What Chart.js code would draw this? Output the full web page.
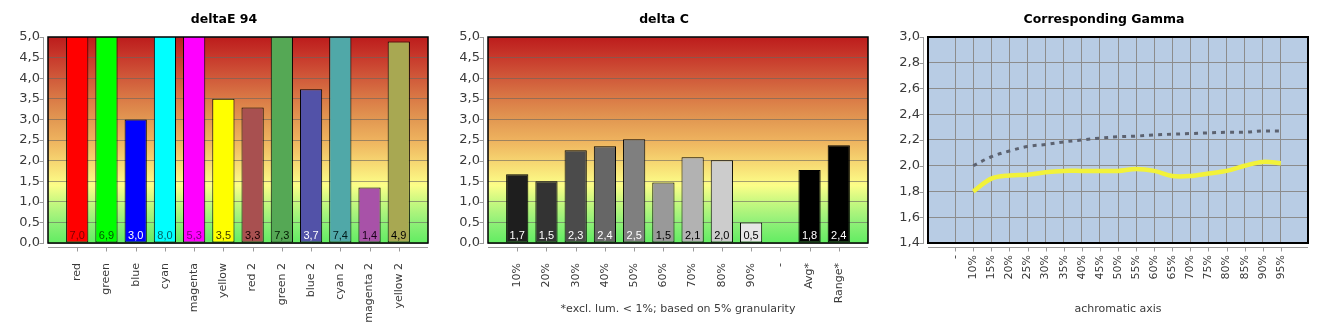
<!DOCTYPE html>
<html>
<head>
<meta charset="utf-8">
<script src="https://cdn.jsdelivr.net/npm/chart.js@4.4.1/dist/chart.umd.min.js"></script>
<style>
  body { margin: 0; background: #fff; width: 1330px; height: 330px; position: relative; overflow: hidden; }
  .box { position: absolute; top: 0; width: 440px; height: 330px; }
</style>
</head>
<body>
<div class="box" style="left:0px"><canvas id="deltaEChart" width="440" height="330"></canvas></div>
<div class="box" style="left:440px"><canvas id="deltaCChart" width="440" height="330"></canvas></div>
<div class="box" style="left:880px"><canvas id="gammaChart" width="440" height="330"></canvas></div>
<script>
const deltaECategories = ["red", "green", "blue", "cyan", "magenta", "yellow", "red 2", "green 2", "blue 2", "cyan 2", "magenta 2", "yellow 2"];
const deltaEValues = [7.0, 6.9, 3.0, 8.0, 5.3, 3.5, 3.29, 7.3, 3.73, 7.4, 1.35, 4.89];
const deltaEColors = ["#ff0000", "#00ff00", "#0000ff", "#00ffff", "#ff00ff", "#ffff00", "#a85050", "#55a855", "#5252a8", "#50a8a8", "#a852a8", "#a8a852"];
const deltaETextColors = ["#7a0000", "#005a00", "#ffffff", "#006464", "#7a007a", "#3c3c00", "#1a0000", "#001a00", "#ffffff", "#001a1a", "#1a001a", "#000000"];

const deltaCCategories = ["10%", "20%", "30%", "40%", "50%", "60%", "70%", "80%", "90%", "-", "Avg*", "Range*"];
const deltaCValues = [1.67, 1.50, 2.25, 2.35, 2.52, 1.47, 2.08, 2.01, 0.50, null, 1.77, 2.37];
const deltaCColors = ["#1e1e1e", "#333333", "#4b4b4b", "#666666", "#7f7f7f", "#999999", "#b2b2b2", "#cccccc", "#e6e6e6", "#000000", "#000000", "#000000"];
const deltaCTextColors = ["#fff", "#fff", "#fff", "#fff", "#fff", "#000", "#000", "#000", "#000", "#000", "#fff", "#fff"];

const gammaLabels = ["-", "10%", "15%", "20%", "25%", "30%", "35%", "40%", "45%", "50%", "55%", "60%", "65%", "70%", "75%", "80%", "85%", "90%", "95%"];
const gammaTarget = [null, 2.00, 2.07, 2.115, 2.15, 2.165, 2.185, 2.20, 2.215, 2.225, 2.23, 2.24, 2.245, 2.25, 2.255, 2.26, 2.26, 2.27, 2.27];
const gammaMeasured = [null, 1.80, 1.90, 1.925, 1.93, 1.95, 1.96, 1.96, 1.96, 1.96, 1.975, 1.96, 1.92, 1.92, 1.94, 1.96, 2.00, 2.03, 2.02];

const deltaTicks = { min: 0, max: 5, step: 0.5 };
const gammaTicks = { min: 1.4, max: 3.0, step: 0.2 };

const gradientStops = [
  [0, "#62ec62"],
  [0.1, "#90f078"],
  [0.2, "#c8f880"],
  [0.28, "#fcfe88"],
  [0.4, "#f6d470"],
  [0.5, "#eeb25e"],
  [0.6, "#e29852"],
  [0.7, "#da7a46"],
  [0.8, "#d05a3a"],
  [0.9, "#c83a2c"],
  [1, "#bc1c1c"]
];

Chart.defaults.font.family = "'DejaVu Sans', sans-serif";
Chart.defaults.color = "#3a3a3a";

const pad = arr => [null, ...arr, null];
const padLabels = arr => ["", ...arr, ""];
const comma = v => Number(v).toFixed(1).replace(".", ",");

const plotFrame = {
  id: "plotFrame",
  beforeDraw(chart, args, opts) {
    const { ctx, chartArea: a } = chart;
    ctx.save();
    if (opts.gradient) {
      const g = ctx.createLinearGradient(0, a.bottom, 0, a.top);
      gradientStops.forEach(([p, c]) => g.addColorStop(p, c));
      ctx.fillStyle = g;
    } else {
      ctx.fillStyle = opts.fill;
    }
    ctx.fillRect(a.left, a.top, a.width, a.height);
    ctx.restore();
  },
  afterDatasetsDraw(chart, args, opts) {
    if (!opts.valueLabels) return;
    const { ctx, chartArea: a } = chart;
    const meta = chart.getDatasetMeta(0);
    const values = chart.data.datasets[0].data;
    ctx.save();
    ctx.font = "11px 'Liberation Sans Narrow', 'Liberation Sans', sans-serif";
    ctx.textAlign = "center";
    ctx.textBaseline = "middle";
    meta.data.forEach((bar, i) => {
      if (values[i] === null || values[i] === undefined) return;
      ctx.fillStyle = opts.textColors[i - 1];
      ctx.fillText(comma(values[i]), bar.x, a.bottom - 7);
    });
    ctx.restore();
  },
  afterDraw(chart, args, opts) {
    const { ctx, chartArea: a } = chart;
    const xs = chart.scales.x;
    const ys = chart.scales.y;
    ctx.save();
    ctx.strokeStyle = "#000";
    ctx.lineWidth = opts.borderWidth;
    ctx.strokeRect(a.left, a.top, a.width, a.height);

    ctx.strokeStyle = "#9a9a9a";
    ctx.lineWidth = 1;
    ctx.beginPath();
    const ax = Math.round(a.left - 5) + 0.5;
    ctx.moveTo(ax, a.top);
    ctx.lineTo(ax, a.bottom + 1);
    ys.ticks.forEach((t, i) => {
      const y = Math.round(ys.getPixelForTick(i)) + 0.5;
      ctx.moveTo(ax - 4, y);
      ctx.lineTo(ax, y);
    });
    const ay = Math.round(a.bottom + 4) + 0.5;
    ctx.moveTo(a.left, ay);
    ctx.lineTo(a.right, ay);
    xs.ticks.forEach((t, i) => {
      if (!xs.getLabelForValue(t.value)) return;
      const x = Math.round(xs.getPixelForTick(i)) + 0.5;
      ctx.moveTo(x, ay);
      ctx.lineTo(x, ay + 4);
    });
    ctx.stroke();
    ctx.restore();
  }
};

function yScale(range, gridColor) {
  return {
    min: range.min,
    max: range.max,
    border: { display: false },
    grid: { drawTicks: false, color: gridColor, lineWidth: 1 },
    ticks: {
      stepSize: range.step,
      padding: 8,
      font: { size: 13 },
      color: "#3a3a3a",
      callback: v => comma(v)
    },
    afterFit: scale => {
      scale.width = 28;
      scale.paddingTop = 0;
      scale.paddingBottom = 0;
    }
  };
}

function xScale(titleText, extra) {
  return Object.assign({
    border: { display: false },
    ticks: {
      autoSkip: false,
      minRotation: 90,
      maxRotation: 90,
      padding: 12,
      font: { size: 11 },
      color: "#3a3a3a"
    },
    title: {
      display: !!titleText,
      text: titleText,
      font: { size: 11 },
      color: "#3a3a3a",
      padding: { top: 0, bottom: 14 }
    },
    afterFit: scale => {
      scale.height = 87;
      scale.paddingLeft = 0;
      scale.paddingRight = 0;
    }
  }, extra);
}

function titleOptions(text) {
  return {
    display: true,
    text: text,
    color: "#000",
    font: { size: 12.5, weight: "bold" },
    padding: { top: 12, bottom: 10 }
  };
}

function barChart(id, title, categories, values, colors, textColors, xTitle) {
  return new Chart(document.getElementById(id), {
    type: "bar",
    data: {
      labels: padLabels(categories),
      datasets: [{
        data: pad(values),
        backgroundColor: pad(colors),
        borderColor: "#000",
        borderWidth: 1,
        borderSkipped: false,
        barPercentage: 0.76,
        categoryPercentage: 1
      }]
    },
    options: {
      responsive: false,
      animation: false,
      layout: { padding: { left: 20, right: 12, top: 0, bottom: 0 } },
      plugins: {
        legend: { display: false },
        tooltip: { enabled: false },
        title: titleOptions(title),
        plotFrame: { gradient: true, valueLabels: true, textColors: textColors, borderWidth: 1.5 }
      },
      scales: {
        x: xScale(xTitle, { offset: false, grid: { display: false } }),
        y: yScale(deltaTicks, "rgba(105,100,95,0.6)")
      }
    },
    plugins: [plotFrame]
  });
}

barChart("deltaEChart", "deltaE 94", deltaECategories, deltaEValues, deltaEColors, deltaETextColors, "");
barChart("deltaCChart", "delta C", deltaCCategories, deltaCValues, deltaCColors, deltaCTextColors, "*excl. lum. < 1%; based on 5% granularity");

const gammaAllLabels = padLabels(gammaLabels);

new Chart(document.getElementById("gammaChart"), {
  type: "line",
  data: {
    labels: gammaAllLabels,
    datasets: [
      {
        data: pad(gammaMeasured),
        borderColor: "#f2f23a",
        borderWidth: 4.5,
        pointRadius: 0,
        tension: 0.35,
        fill: false
      },
      {
        data: pad(gammaTarget),
        borderColor: "#5c6270",
        borderWidth: 3,
        borderDash: [4, 5],
        pointRadius: 0,
        tension: 0.35,
        fill: false
      }
    ]
  },
  options: {
    responsive: false,
    animation: false,
    layout: { padding: { left: 20, right: 12, top: 0, bottom: 0 } },
    plugins: {
      legend: { display: false },
      tooltip: { enabled: false },
      title: titleOptions("Corresponding Gamma"),
      plotFrame: { gradient: false, fill: "#b8cce4", valueLabels: false, borderWidth: 2 }
    },
    scales: {
      x: xScale("achromatic axis", {
        offset: true,
        grid: {
          drawTicks: false,
          color: c => (gammaAllLabels[c.index] ? "#8c8c8c" : "rgba(0,0,0,0)")
        }
      }),
      y: yScale(gammaTicks, "#8c8c8c")
    }
  },
  plugins: [plotFrame]
});
</script>
</body>
</html>
